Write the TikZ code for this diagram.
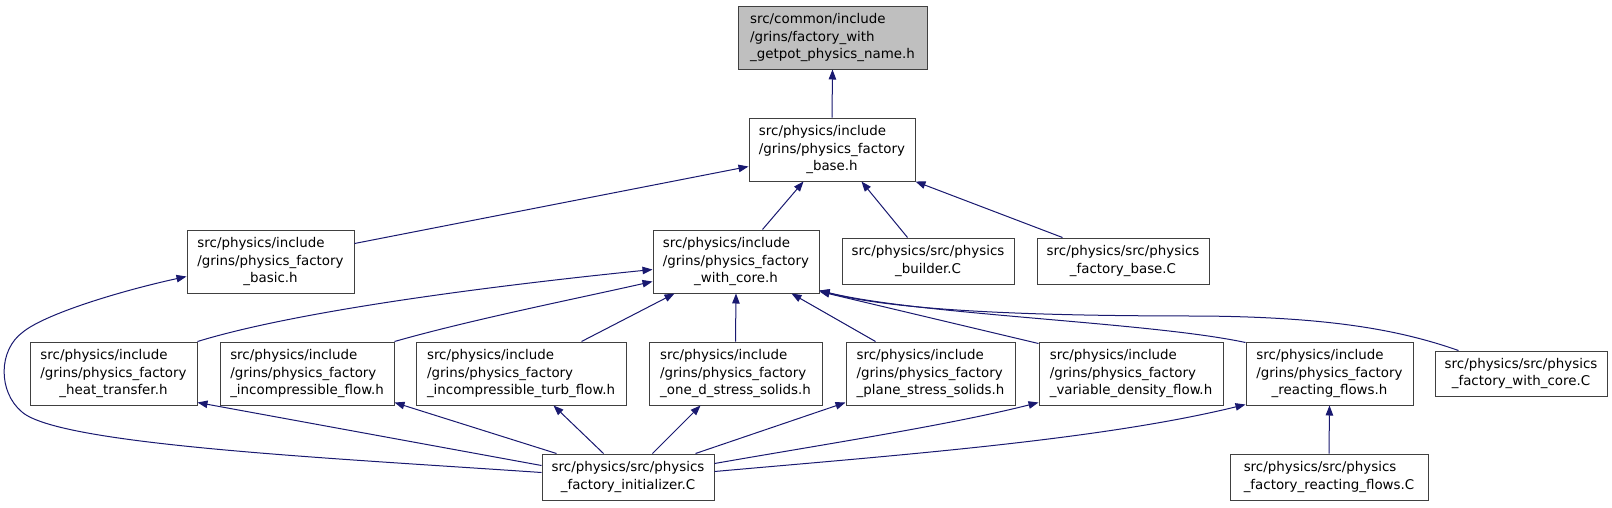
\documentclass[tikz,border=0pt]{standalone}
\usepackage{fontspec}
\setmainfont{DejaVu Sans}
\usetikzlibrary{arrows.meta}
\definecolor{edgeblue}{HTML}{191970}
\definecolor{boxgray}{HTML}{BFBFBF}
\newcommand{\tlines}[3]{\begin{tabular}{@{}l@{}}#1\\#2\\\multicolumn{1}{@{}c@{}}{#3}\end{tabular}}
\newcommand{\dlines}[2]{\begin{tabular}{@{}l@{}}#1\\\multicolumn{1}{@{}c@{}}{#2}\end{tabular}}
\begin{document}
\begin{tikzpicture}[x=1pt,y=-1pt,
  fbox/.style={draw=black!75, line width=1pt, fill=white, inner sep=0pt,
    font=\fontsize{13.4}{17.8}\selectfont},
  dep/.style={draw=edgeblue, line width=1pt, edgeblue,
    -{Triangle[length=10pt,width=7.5pt]}},
]
\useasboundingbox[fill=white] (0,0) rectangle (1612,507);

% nodes
\node[fbox, fill=boxgray, minimum width=189pt, minimum height=63pt] (A) at (832.5,37.5)
  {\tlines{src/common/include}{/grins/factory\_with}{\_getpot\_physics\_name.h}};
\node[fbox, minimum width=166pt, minimum height=63pt] (B) at (832,149.5)
  {\tlines{src/physics/include}{/grins/physics\_factory}{\_base.h}};
\node[fbox, minimum width=167pt, minimum height=63pt] (C) at (270.5,261.5)
  {\tlines{src/physics/include}{/grins/physics\_factory}{\_basic.h}};
\node[fbox, minimum width=166pt, minimum height=63pt] (D) at (736,261.5)
  {\tlines{src/physics/include}{/grins/physics\_factory}{\_with\_core.h}};
\node[fbox, minimum width=172pt, minimum height=46pt] (E) at (928,261)
  {\dlines{src/physics/src/physics}{\_builder.C}};
\node[fbox, minimum width=172pt, minimum height=46pt] (K) at (1123,261)
  {\dlines{src/physics/src/physics}{\_factory\_base.C}};
\node[fbox, minimum width=167pt, minimum height=63pt] (F) at (113.5,373.5)
  {\tlines{src/physics/include}{/grins/physics\_factory}{\_heat\_transfer.h}};
\node[fbox, minimum width=174pt, minimum height=63pt] (G) at (307,373.5)
  {\tlines{src/physics/include}{/grins/physics\_factory}{\_incompressible\_flow.h}};
\node[fbox, minimum width=210pt, minimum height=63pt] (H) at (521,373.5)
  {\tlines{src/physics/include}{/grins/physics\_factory}{\_incompressible\_turb\_flow.h}};
\node[fbox, minimum width=173pt, minimum height=63pt] (I) at (735.5,373.5)
  {\tlines{src/physics/include}{/grins/physics\_factory}{\_one\_d\_stress\_solids.h}};
\node[fbox, minimum width=169pt, minimum height=63pt] (L) at (930.5,373.5)
  {\tlines{src/physics/include}{/grins/physics\_factory}{\_plane\_stress\_solids.h}};
\node[fbox, minimum width=184pt, minimum height=63pt] (M) at (1131,373.5)
  {\tlines{src/physics/include}{/grins/physics\_factory}{\_variable\_density\_flow.h}};
\node[fbox, minimum width=167pt, minimum height=63pt] (N) at (1329.5,373.5)
  {\tlines{src/physics/include}{/grins/physics\_factory}{\_reacting\_flows.h}};
\node[fbox, minimum width=172pt, minimum height=45pt] (O) at (1521,373.5)
  {\dlines{src/physics/src/physics}{\_factory\_with\_core.C}};
\node[fbox, minimum width=172pt, minimum height=46pt] (J) at (628,477)
  {\dlines{src/physics/src/physics}{\_factory\_initializer.C}};
\node[fbox, minimum width=198pt, minimum height=46pt] (P) at (1329,477)
  {\dlines{src/physics/src/physics}{\_factory\_reacting\_flows.C}};

% connectors
\draw[dep] (B.north) -- (A.south);
\draw[dep] ([shift={(0,14)}]C.north east) -- ([shift={(0,49)}]B.north west);
\draw[dep] ([shift={(110,0)}]D.north west) -- ([shift={(55,0)}]B.south west);
\draw[dep] ([shift={(66,0)}]E.north west) -- ([shift={(113,0)}]B.south west);
\draw[dep] ([shift={(26,0)}]K.north west) -- (B.south east);
\draw[dep] ([shift={(0,-28)}]J.south west) .. controls (330,458) and (60,445) .. (22,412)
  .. controls (-2,392) and (-2,350) .. (23,332)
  .. controls (45,314) and (120,291) .. ([shift={(0,47)}]C.north west);
\draw[dep] (F.north east) .. controls (300,310) and (500,285) .. ([shift={(0,40)}]D.north west);
\draw[dep] (G.north east) .. controls (470,320) and (570,300) .. ([shift={(0,52)}]D.north west);
\draw[dep] ([shift={(166,0)}]H.north west) -- ([shift={(22,0)}]D.south west);
\draw[dep] (I.north) -- (D.south);
\draw[dep] ([shift={(30,0)}]L.north west) -- ([shift={(-28,0)}]D.south east);
\draw[dep] ([shift={(0,2)}]M.north west) -- ([shift={(0,-2)}]D.south east);
\draw[dep] ([shift={(0,1)}]N.north west) .. controls (1150,322) and (920,315) .. ([shift={(0,-3)}]D.south east);
\draw[dep] ([shift={(24,0)}]O.north west) .. controls (1400,330) and (1330,317) .. (1200,316)
  .. controls (1050,316) and (900,312) .. ([shift={(0,-3)}]D.south east);
\draw[dep] ([shift={(0,12)}]J.north west) -- ([shift={(0,-3)}]F.south east);
\draw[dep] ([shift={(15,0)}]J.north west) -- ([shift={(0,-3)}]G.south east);
\draw[dep] ([shift={(62,0)}]J.north west) -- ([shift={(138,0)}]H.south west);
\draw[dep] ([shift={(111,0)}]J.north west) -- ([shift={(52,0)}]I.south west);
\draw[dep] ([shift={(154,0)}]J.north west) -- ([shift={(0,-3)}]L.south west);
\draw[dep] ([shift={(0,10)}]J.north east) .. controls (820,445) and (950,425) .. ([shift={(0,-3)}]M.south west);
\draw[dep] ([shift={(0,18)}]J.north east) .. controls (900,455) and (1100,440) .. ([shift={(0,-1)}]N.south west);
\draw[dep] (P.north) -- (N.south);
\end{tikzpicture}
\end{document}
